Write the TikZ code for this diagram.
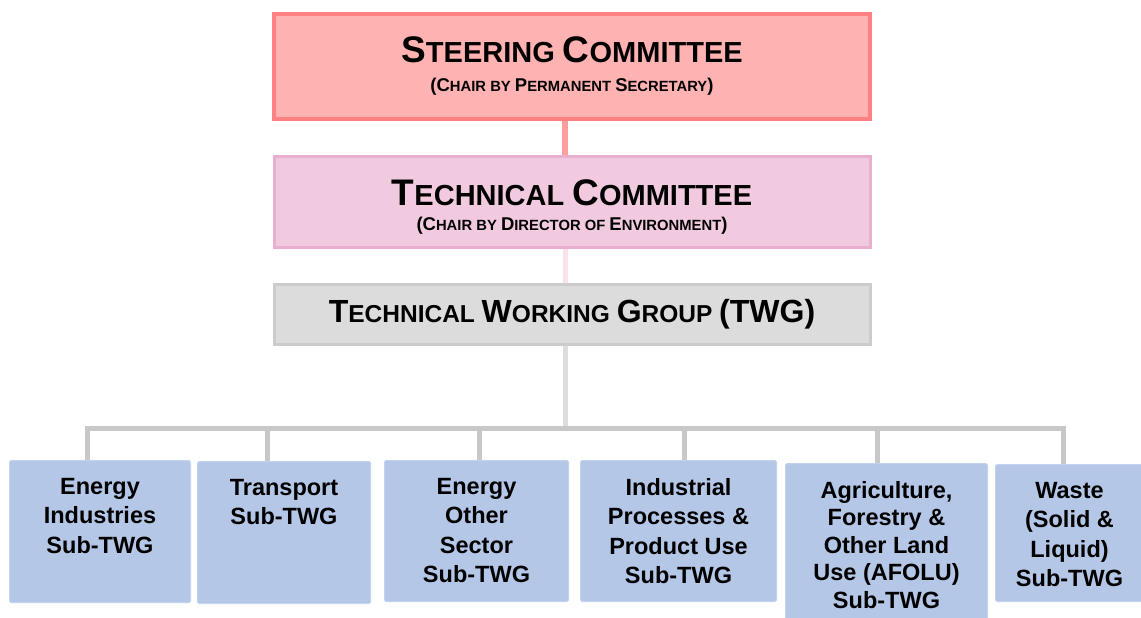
\documentclass[tikz,border=0pt]{standalone}
\usepackage{fontspec}
\setmainfont{Liberation Sans}

\definecolor{steerfill}{RGB}{255,178,178}
\definecolor{steerline}{RGB}{255,128,128}
\definecolor{steerlink}{RGB}{255,158,158}
\definecolor{techfill}{RGB}{242,202,223}
\definecolor{techline}{RGB}{234,174,206}
\definecolor{techlink}{RGB}{250,226,236}
\definecolor{twgfill}{RGB}{220,220,220}
\definecolor{twgline}{RGB}{204,204,204}
\definecolor{twglink}{RGB}{221,221,221}
\definecolor{subfill}{RGB}{180,199,231}
\definecolor{subline}{RGB}{196,211,237}
\definecolor{barline}{RGB}{200,200,200}

% big initials for the small-cap headings
\newcommand\bigI[1]{{\fontsize{37}{37}\selectfont#1}}
\newcommand\subI[1]{{\fontsize{18.5}{18.5}\selectfont#1}}
\newcommand\twgI[1]{{\fontsize{32}{32}\selectfont#1}}
\newcommand\chairline[1]{{\fontsize{14.8}{14.8}\selectfont#1}}

\begin{document}
\begin{tikzpicture}[x=1pt,y=-1pt,
    head box/.style={rectangle,draw,minimum width=596pt,align=center,inner sep=0pt},
    sub box/.style={rectangle,draw=subline,fill=subfill,line width=1pt,
                    rounded corners=1.5pt,anchor=north west,inner sep=0pt},
    sub text/.style={anchor=north,align=center,inner sep=0pt},
    bar/.style={draw=barline,line width=5pt}]

  \useasboundingbox (0,0) rectangle (1141,618);
  \coordinate (spine) at (565,0);

  \node[head box,draw=steerline,fill=steerfill,line width=4pt,minimum height=105pt,
        font=\fontsize{29}{29}\selectfont\bfseries] (steer) at (572,66.5)
    {\bigI{S}TEERING \bigI{C}OMMITTEE\\
     \chairline{\subI{(C}HAIR BY \subI{P}ERMANENT \subI{S}ECRETARY\subI{)}}};

  \node[head box,draw=techline,fill=techfill,line width=3pt,minimum height=91pt,
        text height=60pt,font=\fontsize{29}{25}\selectfont\bfseries] (tech) at (572,202)
    {\bigI{T}ECHNICAL \bigI{C}OMMITTEE\\
     \chairline{\subI{(C}HAIR BY \subI{D}IRECTOR OF \subI{E}NVIRONMENT\subI{)}}};

  \node[head box,draw=twgline,fill=twgfill,line width=3pt,minimum height=60pt,
        font=\fontsize{24.5}{26}\selectfont\bfseries] (twg) at (572,314.5)
    {\twgI{T}ECHNICAL \twgI{W}ORKING \twgI{G}ROUP \twgI{(TWG)}};

  \draw[draw=steerlink,line width=6pt] (steer.south -| spine) -- (tech.north -| spine);
  \draw[draw=techlink,line width=5pt] (tech.south -| spine) -- (twg.north -| spine);

  % horizontal bar feeding the sub groups
  \coordinate (barL) at (87,428);
  \coordinate (barR) at (1063,428);
  \draw[draw=twglink,line width=5pt] (twg.south -| spine) -- (barL -| spine);
  \draw[bar,line cap=rect] (barL) -- (barR);

  \foreach \n/\xa/\ya/\w/\h/\dx/\sk/\txt in {
      1/9/460/181/142/87/29.5/{Energy\\Industries\\Sub-TWG},
      2/197/461/173/142/267/29.5/{Transport\\Sub-TWG},
      3/384/460/184/141/479/29.5/{Energy\\Other\\Sector\\Sub-TWG},
      4/580/460/196/141/684/29.5/{Industrial\\Processes \&\\Product Use\\Sub-TWG},
      5/785/463/202/158/877/27.5/{Agriculture,\\Forestry \&\\Other Land\\Use (AFOLU)\\Sub-TWG},
      6/995/464/148/137/1063/29.5/{Waste\\(Solid \&\\Liquid)\\Sub-TWG}}
  {
    \node[sub box,minimum width=\w pt,minimum height=\h pt] (sub\n) at (\xa,\ya) {};
    \node[sub text,font=\fontsize{23.5}{\sk}\selectfont\bfseries] (subtxt\n)
      at ([yshift=-18pt]sub\n.north) {\txt};
    \draw[bar] (\dx,428) -- (sub\n.north -| \dx,0);
  }
\end{tikzpicture}
\end{document}
